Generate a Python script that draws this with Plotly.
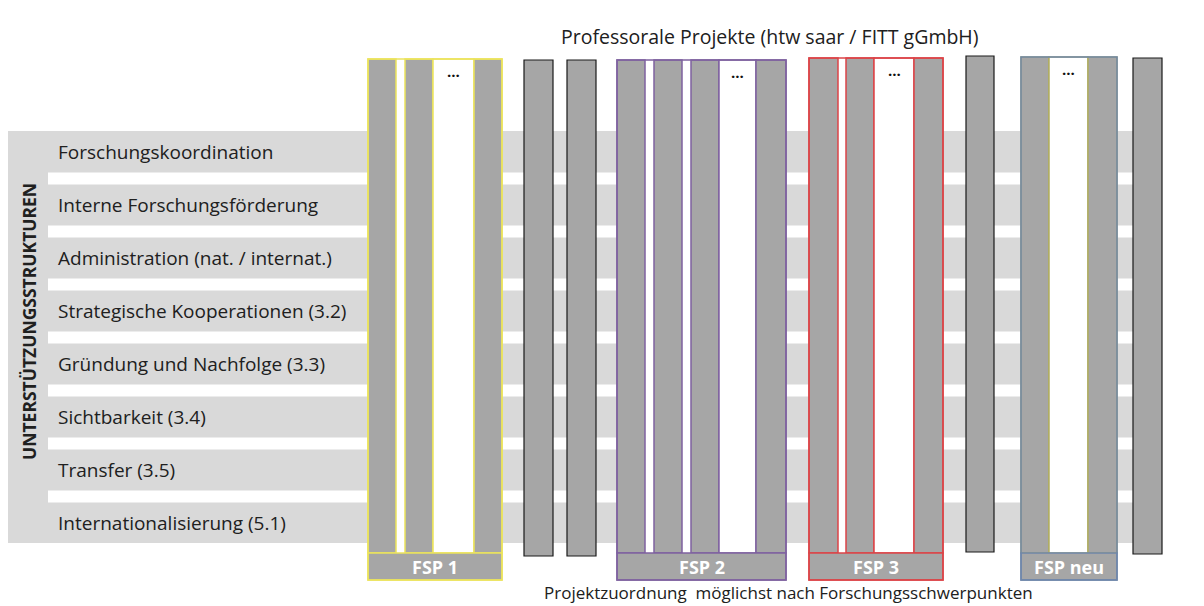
import plotly.graph_objects as go

# ---------------- content ----------------
row_labels = [
    "Forschungskoordination",
    "Interne Forschungsförderung",
    "Administration (nat. / internat.)",
    "Strategische Kooperationen (3.2)",
    "Gründung und Nachfolge (3.3)",
    "Sichtbarkeit (3.4)",
    "Transfer (3.5)",
    "Internationalisierung (5.1)",
]
side_label = "UNTERSTÜTZUNGSSTRUKTUREN"
title_text = "Professorale Projekte (htw saar / FITT gGmbH)"
footer_text = "Projektzuordnung  möglichst nach Forschungsschwerpunkten"

group_names = ["FSP 1", "FSP 2", "FSP 3", "FSP neu"]
group_colors = ["#ece35c", "#7f62a0", "#dc4448", "#6f86ab"]
# slot pattern per group: B = project bar, D = placeholder "..."
group_patterns = ["BBDB", "BBBDB", "BBDB", "BDB"]
dots_text = "..."

# ---------------- geometry (pixels) ----------------
W, H = 1204, 606
BAR_FILL = "#a6a6a6"
BAND_FILL = "#d9d9d9"
TEXT_COL = "#202020"
FONT = "Open Sans"

band_x0, band_x1 = 8, 1133
side_x1 = 48
band_top, band_bot = 131, 543
row_pitch = 53
first_center = 152
gap_h = 12

# group geometry: left x, slot widths, slot gaps (before each slot), top y
group_geom = [
    dict(x0=368, widths=[28, 28, 41, 28], gaps=[0, 9, 0, 0], top=59),
    dict(x0=617, widths=[28, 28, 28, 37, 30], gaps=[0, 9, 9, 0, 0], top=60),
    dict(x0=809, widths=[29, 28, 40, 29], gaps=[0, 8, 0, 0], top=58),
    dict(x0=1021, widths=[28, 39, 29], gaps=[0, 0, 0], top=57),
]
bars_bottom = 553
label_bottom = 580

single_bars = [  # x0, x1, top, bottom
    (524, 553, 60, 556),
    (567, 596, 60, 556),
    (966, 994, 56, 552),
    (1133, 1162, 58, 554),
]

shapes = []
annotations = []


def rect(x0, y0, x1, y1, fill=None, line=None, lw=1.0):
    shapes.append(dict(
        type="rect", xref="x", yref="y", x0=x0, x1=x1, y0=y0, y1=y1,
        fillcolor=fill if fill else "rgba(0,0,0,0)",
        line=dict(color=line if line else "rgba(0,0,0,0)", width=lw if line else 0),
        layer="above",
    ))


# background bands
rect(band_x0, band_top, band_x1, band_bot, fill=BAND_FILL)
for i in range(len(row_labels) - 1):
    gc = first_center + row_pitch * i + row_pitch / 2
    rect(side_x1, gc - gap_h / 2, band_x1, gc + gap_h / 2, fill="white")

for i, lab in enumerate(row_labels):
    annotations.append(dict(
        x=56, y=first_center + row_pitch * i, xref="x", yref="y",
        text=lab, showarrow=False, xanchor="left", yanchor="middle",
        font=dict(family=FONT, size=19, color=TEXT_COL),
    ))

annotations.append(dict(
    x=29, y=322, xref="x", yref="y", text="<b>" + side_label + "</b>",
    showarrow=False, textangle=-90, xanchor="center", yanchor="middle",
    font=dict(family=FONT, size=17.5, color=TEXT_COL),
))

# groups
for name, col, pat, g in zip(group_names, group_colors, group_patterns, group_geom):
    xs = []
    x = g["x0"]
    for w, gp in zip(g["widths"], g["gaps"]):
        x += gp
        xs.append((x, x + w))
        x += w
    gx0, gx1 = g["x0"], x
    top = g["top"]
    # white interior
    rect(gx0, top, gx1, bars_bottom, fill="white")
    inner_col = "#b0ad62" if name == "FSP neu" else col
    for kind, (a, b) in zip(pat, xs):
        if kind == "B":
            rect(a, top, b, bars_bottom, fill=BAR_FILL, line=inner_col, lw=1.5)
        else:
            rect(a, top, b, bars_bottom, fill="white", line=inner_col, lw=1.5)
            annotations.append(dict(
                x=(a + b) / 2, y=top + 12, xref="x", yref="y",
                text="<b>" + dots_text + "</b>", showarrow=False,
                xanchor="center", yanchor="middle",
                font=dict(family=FONT, size=15, color="#111111"),
            ))
    # label box
    rect(gx0, bars_bottom, gx1, label_bottom, fill=BAR_FILL, line=col, lw=1.5)
    # outer frame
    rect(gx0, top, gx1, label_bottom, line=col, lw=1.5)
    annotations.append(dict(
        x=(gx0 + gx1) / 2, y=(bars_bottom + label_bottom) / 2 + 0.5,
        xref="x", yref="y", text="<b>" + name + "</b>", showarrow=False,
        xanchor="center", yanchor="middle",
        font=dict(family=FONT, size=18, color="white"),
    ))

for (a, b, t, btm) in single_bars:
    rect(a, t, b, btm, fill=BAR_FILL, line="#1a1a1a", lw=1.2)

annotations.append(dict(
    x=770, y=36, xref="x", yref="y", text=title_text, showarrow=False,
    xanchor="center", yanchor="middle",
    font=dict(family=FONT, size=19.5, color=TEXT_COL),
))
annotations.append(dict(
    x=788, y=592, xref="x", yref="y", text=footer_text, showarrow=False,
    xanchor="center", yanchor="middle",
    font=dict(family=FONT, size=17, color=TEXT_COL),
))

fig = go.Figure()
fig.add_trace(go.Scatter(x=[0, W], y=[0, H], mode="markers",
                         marker=dict(opacity=0), hoverinfo="skip", showlegend=False))
fig.update_layout(
    width=W, height=H, autosize=False,
    margin=dict(l=0, r=0, t=0, b=0),
    paper_bgcolor="white", plot_bgcolor="white",
    xaxis=dict(range=[0, W], visible=False, fixedrange=True),
    yaxis=dict(range=[H, 0], visible=False, fixedrange=True),
    shapes=shapes, annotations=annotations, showlegend=False,
)
fig.write_html(
    "out.html",
    config=dict(displayModeBar=False),
    post_script="document.body.style.margin='0';document.body.style.overflow='hidden';",
)
